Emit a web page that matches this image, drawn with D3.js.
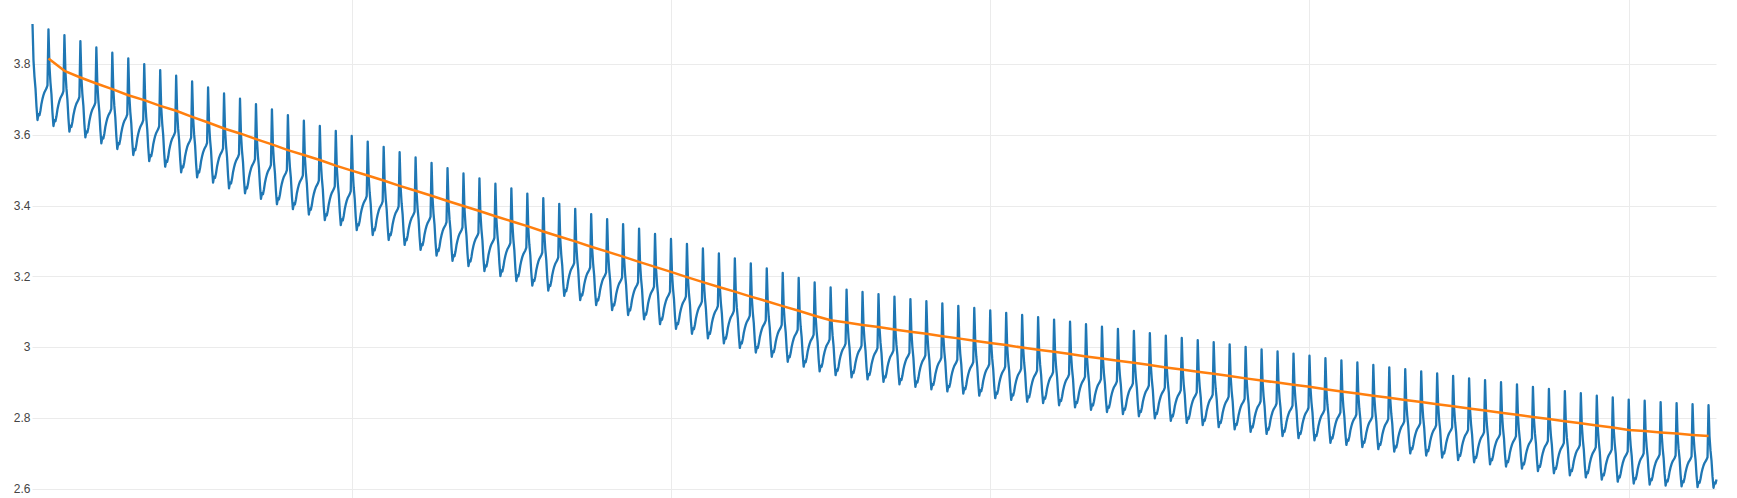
<!DOCTYPE html>
<html>
<head>
<meta charset="utf-8">
<script src="https://cdn.jsdelivr.net/npm/d3@7"></script>
<style>
  body { margin: 0; background: #fff; }
  #chart { width: 1737px; height: 498px; }
</style>
</head>
<body>
<div id="chart"></div>
<script>
// peak value of every beat (beat k starts at t = k seconds)
const peaks = [3.913, 3.898, 3.882, 3.865, 3.847, 3.832, 3.816, 3.800, 3.783, 3.767,
  3.751, 3.734, 3.717, 3.702, 3.687, 3.672, 3.656, 3.640, 3.625, 3.611,
  3.597, 3.581, 3.566, 3.551, 3.536, 3.521, 3.506, 3.491, 3.477, 3.462,
  3.449, 3.434, 3.421, 3.405, 3.391, 3.376, 3.362, 3.348, 3.335, 3.320,
  3.306, 3.292, 3.279, 3.265, 3.251, 3.237, 3.223, 3.210, 3.196, 3.183,
  3.169, 3.163, 3.156, 3.150, 3.143, 3.136, 3.130, 3.124, 3.117, 3.111,
  3.104, 3.097, 3.091, 3.085, 3.078, 3.072, 3.065, 3.058, 3.052, 3.046,
  3.040, 3.033, 3.026, 3.020, 3.014, 3.008, 3.001, 2.994, 2.988, 2.982,
  2.976, 2.969, 2.963, 2.957, 2.950, 2.943, 2.938, 2.932, 2.926, 2.919,
  2.912, 2.907, 2.901, 2.895, 2.888, 2.882, 2.876, 2.870, 2.863, 2.858,
  2.852, 2.849, 2.845, 2.842, 2.839, 2.836];

// lowest value right after each peak
const troughs = [3.642, 3.625, 3.609, 3.593, 3.576, 3.560, 3.543, 3.526, 3.510, 3.494,
  3.480, 3.465, 3.449, 3.435, 3.419, 3.404, 3.390, 3.375, 3.359, 3.345,
  3.331, 3.317, 3.303, 3.289, 3.275, 3.259, 3.244, 3.229, 3.215, 3.201,
  3.187, 3.174, 3.160, 3.145, 3.133, 3.119, 3.105, 3.091, 3.079, 3.065,
  3.052, 3.038, 3.025, 3.011, 2.998, 2.985, 2.973, 2.959, 2.945, 2.932,
  2.921, 2.915, 2.909, 2.902, 2.895, 2.888, 2.881, 2.875, 2.869, 2.863,
  2.856, 2.851, 2.846, 2.842, 2.836, 2.830, 2.823, 2.817, 2.811, 2.805,
  2.799, 2.792, 2.786, 2.780, 2.774, 2.768, 2.761, 2.755, 2.749, 2.743,
  2.737, 2.730, 2.724, 2.718, 2.712, 2.705, 2.700, 2.694, 2.688, 2.681,
  2.675, 2.669, 2.663, 2.657, 2.650, 2.644, 2.638, 2.632, 2.626, 2.620,
  2.615, 2.612, 2.609, 2.607, 2.605, 2.603];

// shape of one beat, 16 samples, 0 = trough level, 1 = peak level
const beatShape = [1.00, 0.62, 0.45, 0.33, 0.14, 0.00, 0.06, 0.05,
  0.10, 0.17, 0.22, 0.26, 0.29, 0.31, 0.33, 0.36];

// trend line, one value per beat from beat 1 to beat 105
const trend = [3.816, 3.781, 3.762, 3.745, 3.729, 3.712, 3.698, 3.682, 3.668, 3.651,
  3.635, 3.618, 3.604, 3.588, 3.573, 3.557, 3.543, 3.529, 3.513, 3.499,
  3.485, 3.471, 3.456, 3.442, 3.428, 3.413, 3.399, 3.385, 3.370, 3.356,
  3.342, 3.327, 3.313, 3.299, 3.284, 3.270, 3.256, 3.241, 3.227, 3.213,
  3.198, 3.184, 3.170, 3.157, 3.143, 3.130, 3.116, 3.103, 3.089, 3.076,
  3.070, 3.063, 3.057, 3.050, 3.044, 3.038, 3.031, 3.025, 3.018, 3.012,
  3.006, 2.999, 2.993, 2.987, 2.981, 2.974, 2.968, 2.962, 2.956, 2.950,
  2.943, 2.937, 2.931, 2.925, 2.919, 2.912, 2.906, 2.900, 2.894, 2.888,
  2.881, 2.875, 2.869, 2.863, 2.857, 2.851, 2.845, 2.839, 2.833, 2.827,
  2.821, 2.815, 2.809, 2.803, 2.797, 2.791, 2.785, 2.779, 2.773, 2.766,
  2.763, 2.759, 2.756, 2.752, 2.749];

const yTicks = [2.6, 2.8, 3, 3.2, 3.4, 3.6, 3.8];
const xTicks = [20, 40, 60, 80, 100];
const tEnd = 105.5;

//variables
const width = 1737;
const height = 498;
const margin = {left: 32.5, right: 20.5};

const x = d3.scaleLinear()
  .domain([0, tEnd])
  .range([margin.left, width - margin.right]);

const y = d3.scaleLinear()
  .domain([2.574, 3.981])
  .range([height, 0]);

//build the signal from the beats
let signal = [];
peaks.forEach(function(p, k) {
  beatShape.forEach(function(s, j) {
    let t = k + j / beatShape.length;
    if (t <= tEnd) signal.push([t, troughs[k] + s * (p - troughs[k])]);
  });
});

let trendData = trend.map(function(v, i) { return [i + 1, v]; });

//define svg
const svg = d3.select("#chart")
  .append("svg")
  .attr("width", width)
  .attr("height", height);

//grid
svg.append("g")
  .selectAll("line")
  .data(yTicks)
  .join("line")
  .attr("x1", margin.left)
  .attr("x2", width - margin.right)
  .attr("y1", d => Math.round(y(d)) + 0.5)
  .attr("y2", d => Math.round(y(d)) + 0.5)
  .attr("stroke", "#ebebeb")
  .attr("stroke-width", 1);

svg.append("g")
  .selectAll("line")
  .data(xTicks)
  .join("line")
  .attr("x1", d => Math.round(x(d)) + 0.5)
  .attr("x2", d => Math.round(x(d)) + 0.5)
  .attr("y1", 0)
  .attr("y2", height)
  .attr("stroke", "#ebebeb")
  .attr("stroke-width", 1);

//y labels
svg.append("g")
  .selectAll("text")
  .data(yTicks)
  .join("text")
  .attr("x", margin.left - 2)
  .attr("y", d => y(d))
  .attr("dy", "0.35em")
  .attr("text-anchor", "end")
  .style("font-family", "'Liberation Sans', Arial, sans-serif")
  .style("font-size", "12px")
  .style("fill", "#444")
  .text(d => d3.format("")(d));

//lines
const line = d3.line()
  .x(d => x(d[0]))
  .y(d => y(d[1]));

svg.append("path")
  .datum(signal)
  .attr("d", line)
  .attr("fill", "none")
  .attr("stroke", "#1f77b4")
  .attr("stroke-width", 2.3)
  .attr("stroke-linejoin", "round");

svg.append("path")
  .datum(trendData)
  .attr("d", line)
  .attr("fill", "none")
  .attr("stroke", "#ff7f0e")
  .attr("stroke-width", 2.5)
  .attr("stroke-linejoin", "round");
</script>
</body>
</html>
